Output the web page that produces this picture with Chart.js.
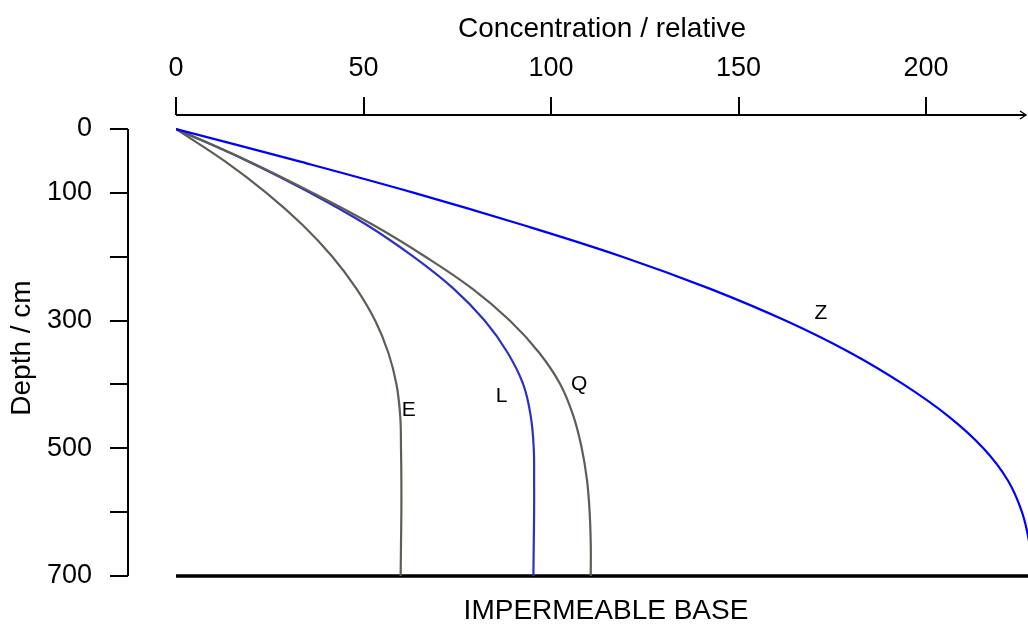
<!DOCTYPE html>
<html>
<head>
<meta charset="utf-8">
<script src="https://cdn.jsdelivr.net/npm/chart.js@4"></script>
<style>
  html, body { margin: 0; padding: 0; background: #fff; }
  #wrap { width: 1028px; height: 626px; }
</style>
</head>
<body>
<div id="wrap"><canvas id="chart" width="1028" height="626"></canvas></div>
<script>
// ── Data ──
var depths = [0, 50, 100, 150, 200, 250, 300, 350, 400, 450, 500, 550, 600, 650, 700];
var concZ  = [0, 32.4, 63.5, 92.3, 119.0, 142.3, 162.5, 179.7, 194.0, 206.0, 215.3, 221.8, 225.6, 227.6, 228.5];
var concQ  = [0, 19.2, 36.5, 52.5, 66.5, 79, 89, 96.8, 102.5, 106, 108.2, 109.6, 110.3, 110.6, 110.6];
var concL  = [0, 19.0, 35.8, 50.8, 63.3, 74, 82.3, 88.4, 92.6, 94.6, 95.4, 95.5, 95.5, 95.4, 95.3];
var concE  = [0, 12.9, 24.1, 33.7, 41.7, 48.1, 53.1, 56.6, 58.8, 59.8, 60.0, 60.1, 60.1, 60.0, 59.9];

var baseDepth = 700;
var baseConc = [0, 227.2];

var yTicks      = [0, 100, 200, 300, 400, 500, 600, 700];
var yTickLabels = ['0', '100', '', '300', '', '500', '', '700'];

var curveNames = ['E', 'L', 'Q', 'Z'];
var curveLabelX = [62.1, 86.8, 107.5, 172];
var curveLabelY = [440, 418, 399, 288];

var FONT = "'Liberation Sans', Arial, Helvetica, sans-serif";
var GREY = '#5e5e56';

function pts(conc) {
  var out = [];
  for (var i = 0; i < depths.length; i++) out.push({ x: conc[i], y: depths[i] });
  return out;
}

function curve(conc, color) {
  return { data: pts(conc), borderColor: color, borderWidth: 2.2, pointRadius: 0,
           showLine: true, tension: 0.4, fill: false };
}

// ── Extra marks: axis lines, arrow, labels ──
var extras = {
  id: 'extras',
  afterDraw: function(chart) {
    var ctx = chart.ctx;
    var xs = chart.scales.x, ys = chart.scales.y;
    ctx.save();
    ctx.strokeStyle = '#000';
    ctx.lineWidth = 2;
    // y axis line (offset left of the data region)
    ctx.beginPath();
    ctx.moveTo(128, ys.getPixelForValue(0));
    ctx.lineTo(128, ys.getPixelForValue(700));
    ctx.stroke();
    // x axis line with arrow
    var ay = chart.chartArea.top;
    ctx.beginPath();
    ctx.moveTo(xs.getPixelForValue(0), ay);
    ctx.lineTo(1026, ay);
    ctx.stroke();
    ctx.lineWidth = 1.3;
    ctx.beginPath();
    ctx.moveTo(1020, ay - 4);
    ctx.lineTo(1026, ay);
    ctx.lineTo(1020, ay + 4);
    ctx.stroke();

    // curve labels
    ctx.fillStyle = '#000';
    ctx.font = '21px ' + FONT;
    ctx.textAlign = 'center';
    ctx.textBaseline = 'middle';
    for (var i = 0; i < curveNames.length; i++) {
      ctx.fillText(curveNames[i], xs.getPixelForValue(curveLabelX[i]), ys.getPixelForValue(curveLabelY[i]));
    }
    // base label
    ctx.font = '28px ' + FONT;
    ctx.fillText('IMPERMEABLE BASE', (xs.getPixelForValue(0) + chart.chartArea.right) / 2 + 4, 611);
    ctx.restore();
  }
};

new Chart(document.getElementById('chart'), {
  type: 'scatter',
  data: {
    datasets: [
      curve(concZ, '#0000ff'),
      curve(concQ, GREY),
      curve(concL, '#2f2fc8'),
      curve(concE, GREY),
      { data: [{ x: baseConc[0], y: baseDepth }, { x: baseConc[1], y: baseDepth }],
        borderColor: '#000', borderWidth: 3.5, pointRadius: 0, showLine: true, tension: 0 }
    ]
  },
  options: {
    responsive: false,
    animation: false,
    layout: { padding: { top: 0, left: 0, right: 0, bottom: 45 } },
    plugins: { legend: { display: false }, tooltip: { enabled: false } },
    scales: {
      x: {
        type: 'linear',
        position: 'top',
        min: 0,
        max: 227.2,
        afterFit: function(s) { s.height = 115; },
        border: { display: false },
        grid: { drawOnChartArea: false, drawTicks: true, tickLength: 18, color: '#000', lineWidth: 2 },
        ticks: { stepSize: 50, includeBounds: false, autoSkip: false, maxRotation: 0,
                 padding: 11.8, color: '#000', font: { family: FONT, size: 27 } },
        title: { display: true, text: 'Concentration / relative', color: '#000',
                 padding: { top: 12.2, bottom: 0 }, font: { family: FONT, size: 28 } }
      },
      y: {
        type: 'linear',
        position: 'left',
        reverse: true,
        min: -21.92,
        max: 707.83,
        afterFit: function(s) { s.width = 176; },
        border: { display: false },
        grid: { drawOnChartArea: false, drawTicks: true, tickLength: 66, color: '#000',
                lineWidth: 2, tickBorderDash: [18, 100] },
        ticks: {
          stepSize: 100, includeBounds: false, autoSkip: false, padding: 18,
          color: '#000', font: { family: FONT, size: 27 },
          callback: function(v) {
            var i = yTicks.indexOf(v);
            return i >= 0 ? yTickLabels[i] : '';
          }
        },
        title: { display: true, text: 'Depth / cm', color: '#000',
                 padding: { top: 5.2, bottom: 0 }, font: { family: FONT, size: 28 } }
      }
    }
  },
  plugins: [extras]
});
</script>
</body>
</html>
